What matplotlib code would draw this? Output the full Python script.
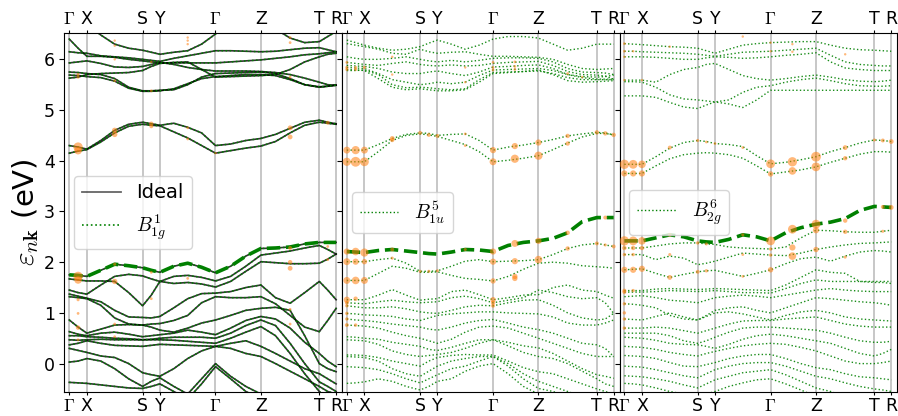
import numpy as np
import matplotlib.pyplot as plt
from matplotlib.lines import Line2D

plt.rcParams['mathtext.fontset'] = 'cm'

# --- k-path ---
hs_labels = [r'$\Gamma$', 'X', 'S', 'Y', r'$\Gamma$', 'Z', 'T', 'R']
hs_pos = [0, 17.6, 73.3, 90.6, 146.2, 191.6, 250.0, 266.8]
kgrid = [0, 8.8, 17.6, 31.5, 45.4, 59.4, 73.3, 82.0, 90.6, 104.5, 118.4, 132.3,
         146.2, 161.3, 176.5, 191.6, 206.2, 220.8, 235.4, 250.0, 258.4, 266.8]

# --- Panel 1: ideal / B1g^1 bands (eV) ---
bands_ideal = [
    # conduction
    [4.30, 4.27, 4.23, 4.40, 4.60, 4.72, 4.76, 4.73, 4.70, 4.74, 4.66, 4.55, 4.30, 4.33, 4.40, 4.44, 4.52, 4.64, 4.76, 4.80, 4.76, 4.73],
    [4.15, 4.19, 4.22, 4.37, 4.55, 4.68, 4.72, 4.70, 4.69, 4.57, 4.45, 4.30, 4.15, 4.20, 4.25, 4.29, 4.38, 4.55, 4.70, 4.76, 4.74, 4.72],
    [6.40, 6.22, 6.06, 6.06, 6.04, 6.00, 5.97, 5.95, 5.93, 5.93, 5.93, 5.93, 5.93, 5.95, 5.97, 5.99, 6.02, 6.05, 6.09, 6.11, 6.13, 6.15],
    [6.15, 6.13, 6.12, 6.07, 6.05, 6.03, 6.00, 5.98, 5.96, 6.02, 6.07, 6.12, 6.17, 6.17, 6.16, 6.15, 6.16, 6.19, 6.22, 6.23, 6.19, 6.15],
    [5.93, 5.95, 5.97, 5.92, 5.85, 5.84, 5.86, 5.90, 5.94, 5.90, 5.84, 5.80, 5.77, 5.77, 5.77, 5.76, 5.74, 5.70, 5.63, 5.55, 5.50, 5.49],
    [5.75, 5.74, 5.72, 5.70, 5.62, 5.45, 5.38, 5.38, 5.39, 5.40, 5.50, 5.65, 5.72, 5.73, 5.74, 5.75, 5.72, 5.62, 5.50, 5.45, 5.47, 5.49],
    [5.69, 5.68, 5.66, 5.64, 5.57, 5.43, 5.37, 5.37, 5.38, 5.42, 5.52, 5.62, 5.66, 5.68, 5.70, 5.70, 5.68, 5.60, 5.50, 5.46, 5.47, 5.49],
    [5.63, 5.65, 5.70, 5.72, 5.73, 5.74, 5.78, 5.86, 5.92, 5.94, 5.95, 5.80, 5.65, 5.66, 5.67, 5.68, 5.70, 5.80, 5.95, 6.05, 6.10, 6.12],
    [6.70, 6.70, 6.70, 6.48, 6.30, 6.22, 6.18, 6.14, 6.10, 6.14, 6.17, 6.30, 6.50, 6.70, 6.70, 6.70, 6.60, 6.42, 6.33, 6.35, 6.45, 6.55],
    # valence
    [1.75, 1.74, 1.72, 1.84, 1.96, 1.93, 1.89, 1.84, 1.80, 1.92, 1.98, 1.90, 1.79, 1.92, 2.12, 2.27, 2.28, 2.30, 2.36, 2.39, 2.39, 2.39],
    [1.67, 1.65, 1.63, 1.63, 1.62, 1.40, 1.14, 1.35, 1.62, 1.72, 1.74, 1.70, 1.63, 1.72, 1.92, 2.14, 2.18, 2.22, 2.28, 2.33, 2.25, 2.16],
    [1.45, 1.40, 1.37, 1.55, 1.72, 1.76, 1.73, 1.67, 1.62, 1.58, 1.60, 1.57, 1.51, 1.62, 1.82, 2.01, 1.99, 1.97, 1.97, 1.98, 2.06, 2.16],
    [1.37, 1.33, 1.29, 1.22, 1.05, 0.92, 0.91, 0.90, 0.93, 1.10, 1.28, 1.38, 1.39, 1.42, 1.50, 1.55, 1.30, 1.19, 1.40, 1.62, 1.45, 1.26],
    [1.32, 1.30, 1.28, 1.15, 0.90, 0.78, 0.76, 0.78, 0.79, 0.85, 0.95, 1.20, 1.32, 1.30, 1.30, 1.32, 1.18, 0.95, 0.72, 0.63, 0.85, 1.09],
    [0.86, 0.72, 0.60, 0.68, 0.76, 0.77, 0.76, 0.72, 0.66, 0.62, 0.70, 0.80, 0.86, 0.95, 1.05, 1.09, 1.11, 1.05, 0.55, 0.00, -0.10, -0.16],
    [0.63, 0.58, 0.55, 0.60, 0.62, 0.58, 0.53, 0.55, 0.57, 0.60, 0.66, 0.62, 0.57, 0.70, 0.85, 0.93, 0.88, 0.70, 0.42, 0.20, 0.05, -0.06],
    [0.55, 0.55, 0.53, 0.52, 0.50, 0.49, 0.47, 0.48, 0.50, 0.52, 0.52, 0.52, 0.50, 0.60, 0.75, 0.86, 0.75, 0.40, 0.00, -0.36, -0.45, -0.55],
    [0.47, 0.46, 0.47, 0.48, 0.47, 0.47, 0.47, 0.47, 0.47, 0.46, 0.44, 0.42, 0.40, 0.50, 0.62, 0.73, 0.55, 0.20, -0.20, -0.55, -0.70, -0.80],
    [0.37, 0.40, 0.45, 0.40, 0.36, 0.35, 0.34, 0.36, 0.38, 0.37, 0.36, 0.35, 0.34, 0.40, 0.45, 0.34, 0.20, 0.05, -0.10, -0.20, -0.30, -0.40],
    [0.30, 0.26, 0.22, 0.15, 0.12, 0.00, -0.18, -0.22, -0.25, -0.10, 0.10, 0.25, 0.34, 0.30, 0.20, 0.14, 0.00, -0.15, -0.30, -0.45, -0.55, -0.60],
    [0.03, 0.05, 0.10, 0.05, -0.10, -0.30, -0.45, -0.35, -0.28, -0.45, -0.60, -0.30, 0.00, -0.25, -0.45, -0.60, -0.70, -0.70, -0.70, -0.70, -0.70, -0.70],
    [-0.37, -0.38, -0.39, -0.42, -0.45, -0.48, -0.49, -0.45, -0.40, -0.55, -0.70, -0.40, -0.06, -0.30, -0.55, -0.70, -0.70, -0.70, -0.70, -0.70, -0.70, -0.70],
]
top_b1g = [1.75, 1.74, 1.72, 1.84, 1.96, 1.93, 1.89, 1.84, 1.80, 1.92, 1.98, 1.90, 1.79, 1.92, 2.12, 2.27, 2.28, 2.30, 2.36, 2.39, 2.39, 2.39]
dots1_k = [8.8, 8.8, 45.4, 45.4, 82.0, 82.0, 118.4, 118.4, 146.2, 220.8, 220.8, 258.4,
           8.8, 8.8, 8.8, 8.8, 8.8, 8.8, 45.4, 45.4, 45.4, 45.4, 82.0, 82.0, 118.4,
           220.8, 220.8, 220.8, 220.8, 220.8, 258.4, 258.4,
           8.8, 8.8, 45.4, 45.4, 45.4, 45.4, 118.4, 118.4, 118.4, 220.8, 220.8, 220.8, 82.0, 82.0]
dots1_e = [4.27, 4.20, 4.60, 4.52, 4.73, 4.68, 4.65, 4.43, 4.15, 4.65, 4.47, 4.75,
           1.72, 1.65, 1.26, 0.99, 0.71, 0.47, 1.96, 1.62, 0.78, 0.53, 1.80, 1.28, 1.68,
           2.28, 2.00, 1.88, 1.07, 0.78, 2.31, 2.05,
           5.70, 5.65, 6.37, 6.27, 6.00, 5.58, 6.43, 6.37, 6.30, 6.43, 6.33, 5.65, 5.38, 5.95]
dots1_w = [45, 30, 15, 15, 10, 8, 4, 4, 3, 12, 12, 8,
           45, 30, 5, 4, 10, 4, 5, 15, 4, 4, 4, 4, 4,
           8, 10, 12, 4, 4, 4, 4,
           5, 5, 3, 3, 3, 4, 3, 3, 3, 4, 4, 4, 4, 3]

# --- Panel 2: B1u^5 bands (eV) ---
bands_b1u = [
    [4.21, 4.21, 4.21, 4.32, 4.44, 4.52, 4.55, 4.54, 4.50, 4.52, 4.53, 4.40, 4.21, 4.27, 4.31, 4.36, 4.42, 4.49, 4.53, 4.56, 4.55, 4.51],
    [3.98, 3.98, 3.98, 4.18, 4.40, 4.50, 4.53, 4.51, 4.48, 4.40, 4.32, 4.18, 3.98, 4.01, 4.05, 4.10, 4.22, 4.35, 4.47, 4.54, 4.54, 4.51],
    [6.38, 6.33, 6.28, 6.22, 6.18, 6.20, 6.25, 6.32, 6.38, 6.30, 6.20, 6.28, 6.40, 6.45, 6.45, 6.42, 6.30, 6.18, 6.22, 6.30, 6.30, 6.30],
    [6.31, 6.28, 6.25, 6.20, 6.12, 6.10, 6.20, 6.15, 6.12, 6.14, 6.15, 6.10, 6.06, 6.06, 6.05, 6.04, 6.00, 5.90, 5.82, 5.80, 5.81, 5.82],
    [6.05, 6.02, 6.00, 6.00, 6.02, 6.05, 6.00, 5.97, 5.95, 5.98, 5.95, 5.98, 6.02, 6.03, 6.03, 6.02, 5.95, 5.82, 5.75, 5.74, 5.73, 5.70],
    [5.94, 5.92, 5.90, 5.88, 5.92, 5.95, 5.90, 5.88, 5.87, 5.89, 5.87, 5.88, 5.92, 5.94, 5.95, 5.96, 5.88, 5.76, 5.70, 5.69, 5.67, 5.61],
    [5.88, 5.87, 5.86, 5.82, 5.75, 5.72, 5.72, 5.75, 5.77, 5.72, 5.68, 5.75, 5.85, 5.86, 5.88, 5.89, 5.82, 5.70, 5.64, 5.61, 5.61, 5.61],
    [5.84, 5.83, 5.82, 5.72, 5.60, 5.55, 5.50, 5.52, 5.55, 5.52, 5.55, 5.68, 5.79, 5.80, 5.81, 5.82, 5.78, 5.70, 5.66, 5.65, 5.66, 5.69],
    [5.78, 5.78, 5.79, 5.70, 5.50, 5.44, 5.45, 5.44, 5.42, 5.40, 5.42, 5.60, 5.74, 5.75, 5.76, 5.77, 5.72, 5.64, 5.60, 5.60, 5.60, 5.60],
    [5.80, 5.79, 5.78, 5.62, 5.45, 5.40, 5.42, 5.40, 5.38, 5.38, 5.40, 5.55, 5.72, 5.74, 5.76, 5.79, 5.70, 5.58, 5.55, 5.56, 5.57, 5.58],
    [2.01, 2.01, 2.01, 2.05, 2.08, 1.98, 1.82, 1.82, 1.83, 1.92, 2.02, 2.05, 2.01, 2.02, 2.03, 2.05, 2.15, 2.27, 2.34, 2.37, 2.34, 2.31],
    [1.64, 1.64, 1.64, 1.78, 1.92, 1.88, 1.80, 1.80, 1.81, 1.74, 1.68, 1.66, 1.63, 1.72, 1.86, 1.98, 2.00, 1.98, 1.93, 1.91, 1.90, 1.88],
    [1.26, 1.26, 1.26, 1.35, 1.46, 1.35, 1.25, 1.27, 1.28, 1.42, 1.45, 1.36, 1.26, 1.30, 1.35, 1.36, 1.50, 1.55, 1.45, 1.42, 1.35, 1.29],
    [1.20, 1.19, 1.18, 1.22, 1.25, 1.22, 1.20, 1.21, 1.22, 1.30, 1.33, 1.28, 1.20, 1.25, 1.30, 1.45, 1.40, 1.32, 1.28, 1.30, 1.20, 0.99],
    [1.14, 1.12, 1.10, 1.10, 1.12, 1.08, 1.02, 1.00, 0.99, 1.05, 1.12, 1.15, 1.14, 1.20, 1.25, 1.26, 1.15, 1.00, 0.90, 0.86, 0.88, 0.99],
    [0.99, 0.98, 0.96, 0.95, 0.93, 0.88, 0.85, 0.90, 0.95, 0.98, 1.00, 1.02, 1.02, 1.00, 0.99, 0.98, 0.92, 0.80, 0.76, 0.76, 0.80, 0.86],
    [0.88, 0.86, 0.85, 0.82, 0.78, 0.75, 0.72, 0.68, 0.66, 0.72, 0.80, 0.85, 0.87, 0.80, 0.72, 0.67, 0.60, 0.50, 0.40, 0.37, 0.30, 0.14],
    [0.76, 0.75, 0.74, 0.70, 0.62, 0.55, 0.50, 0.45, 0.40, 0.48, 0.62, 0.72, 0.74, 0.70, 0.60, 0.50, 0.40, 0.30, 0.20, 0.14, 0.14, 0.14],
    [0.53, 0.52, 0.50, 0.48, 0.42, 0.38, 0.34, 0.28, 0.26, 0.32, 0.40, 0.47, 0.47, 0.42, 0.35, 0.31, 0.20, 0.05, -0.10, -0.22, -0.25, -0.29],
    [0.47, 0.46, 0.45, 0.38, 0.25, 0.18, 0.14, 0.16, 0.18, 0.22, 0.30, 0.40, 0.47, 0.35, 0.22, 0.14, 0.10, 0.00, -0.15, -0.30, -0.40, -0.45],
    [0.17, 0.17, 0.16, 0.12, 0.05, 0.00, -0.05, 0.05, 0.12, 0.16, 0.18, 0.17, 0.17, 0.05, -0.08, -0.16, -0.20, -0.30, -0.40, -0.50, -0.55, -0.60],
    [0.14, 0.13, 0.12, 0.05, -0.10, -0.20, -0.25, -0.15, -0.05, 0.05, 0.10, 0.14, 0.14, 0.00, -0.20, -0.35, -0.45, -0.55, -0.65, -0.70, -0.70, -0.70],
    [-0.06, -0.07, -0.08, -0.12, -0.20, -0.30, -0.38, -0.30, -0.22, -0.10, -0.05, 0.05, 0.14, -0.05, -0.30, -0.49, -0.55, -0.65, -0.70, -0.70, -0.70, -0.70],
    [-0.39, -0.38, -0.36, -0.30, -0.35, -0.45, -0.52, -0.45, -0.35, -0.30, -0.15, -0.05, 0.00, -0.20, -0.45, -0.60, -0.70, -0.70, -0.70, -0.70, -0.70, -0.70],
]
top_b1u = [2.21, 2.20, 2.19, 2.23, 2.25, 2.22, 2.19, 2.17, 2.16, 2.20, 2.25, 2.24, 2.21, 2.33, 2.39, 2.42, 2.47, 2.58, 2.80, 2.88, 2.88, 2.88]
dots2_k = [0, 8.8, 17.6, 0, 8.8, 17.6, 45.4, 45.4, 73.3, 82.0, 90.6, 118.4, 118.4, 146.2, 146.2,
           168.0, 168.0, 191.6, 191.6, 220.8, 220.8, 250.0, 258.4, 266.8,
           0, 0, 0, 8.8, 8.8, 17.6, 146.2, 146.2, 146.2, 168.0, 168.0, 168.0, 118.4, 118.4, 220.8, 235.4, 45.4, 45.4,
           0, 8.8, 17.6, 0, 8.8, 17.6, 0, 8.8, 17.6, 0, 8.8, 0, 0, 0, 0, 0, 8.8,
           45.4, 45.4, 73.3, 82.0, 90.6, 118.4, 146.2, 146.2, 146.2, 146.2, 146.2, 146.2,
           168.0, 168.0, 168.0, 168.0, 191.6, 191.6, 220.8, 220.8, 250.0, 258.4, 258.4, 266.8]
dots2_e = [4.21, 4.21, 4.21, 3.98, 3.98, 3.98, 4.44, 4.41, 4.55, 4.51, 4.49, 4.53, 4.30, 4.21, 3.98,
           4.29, 4.04, 4.36, 4.10, 4.49, 4.34, 4.56, 4.54, 4.51,
           5.84, 5.80, 5.94, 5.84, 5.80, 5.84, 5.94, 5.84, 5.79, 5.95, 5.86, 5.80, 5.55, 5.84, 5.72, 5.65, 6.05, 5.70,
           2.21, 2.21, 2.19, 2.01, 2.01, 2.01, 1.64, 1.64, 1.64, 1.26, 1.28, 1.20, 1.14, 0.99, 0.88, 0.76, 0.76,
           2.25, 2.08, 1.82, 1.82, 1.83, 2.25, 2.21, 2.01, 1.63, 1.26, 1.20, 1.14,
           2.37, 2.02, 1.72, 1.68, 2.42, 2.05, 2.58, 2.27, 2.37, 2.88, 2.34, 2.31]
dots2_w = [25, 35, 25, 35, 50, 40, 12, 10, 8, 8, 8, 4, 4, 20, 25,
           20, 35, 20, 35, 10, 10, 10, 10, 10,
           5, 5, 4, 5, 5, 5, 4, 4, 4, 4, 4, 4, 3, 3, 4, 3, 3, 3,
           20, 30, 35, 25, 20, 15, 25, 30, 25, 20, 10, 8, 6, 6, 6, 8, 6,
           8, 5, 5, 5, 5, 5, 20, 20, 15, 15, 10, 8,
           25, 20, 15, 15, 20, 30, 10, 10, 8, 8, 5, 8]

# --- Panel 3: B2g^6 bands (eV) ---
bands_b2g = [
    [3.93, 3.93, 3.93, 4.08, 4.25, 4.36, 4.40, 4.38, 4.34, 4.32, 4.28, 4.10, 3.94, 3.97, 4.02, 4.08, 4.18, 4.26, 4.35, 4.41, 4.40, 4.38],
    [3.75, 3.75, 3.75, 3.90, 4.04, 4.12, 4.15, 4.16, 4.15, 4.12, 4.05, 3.90, 3.74, 3.78, 3.82, 3.88, 3.97, 4.05, 4.13, 4.18, 4.18, 4.17],
    [6.31, 6.30, 6.29, 6.27, 6.25, 6.24, 6.22, 6.17, 6.12, 6.20, 6.28, 6.31, 6.33, 6.34, 6.35, 6.35, 6.28, 6.22, 6.19, 6.18, 6.17, 6.16],
    [6.16, 6.16, 6.15, 6.14, 6.13, 6.12, 6.10, 6.08, 6.06, 6.10, 6.14, 6.15, 6.16, 6.18, 6.20, 6.22, 6.08, 5.95, 5.90, 5.88, 5.87, 5.87],
    [6.05, 6.05, 6.05, 6.04, 6.02, 6.00, 6.00, 6.03, 6.05, 6.04, 6.02, 6.03, 6.05, 6.08, 6.10, 6.13, 5.95, 5.83, 5.80, 5.78, 5.78, 5.78],
    [5.59, 5.59, 5.59, 5.55, 5.70, 5.80, 5.84, 5.90, 5.92, 5.80, 5.68, 5.62, 5.59, 5.62, 5.66, 5.69, 5.65, 5.60, 5.57, 5.56, 5.57, 5.59],
    [5.56, 5.56, 5.55, 5.45, 5.30, 5.22, 5.20, 5.18, 5.16, 5.20, 5.35, 5.45, 5.48, 5.55, 5.60, 5.63, 5.58, 5.52, 5.48, 5.47, 5.47, 5.48],
    [5.28, 5.28, 5.28, 5.25, 5.15, 5.06, 5.03, 5.10, 5.16, 5.12, 5.05, 5.20, 5.39, 5.39, 5.39, 5.39, 5.39, 5.39, 5.39, 5.39, 5.39, 5.39],
    [2.28, 2.28, 2.28, 2.32, 2.36, 2.38, 2.38, 2.36, 2.35, 2.30, 2.28, 2.27, 2.26, 2.30, 2.48, 2.63, 2.62, 2.60, 2.59, 2.59, 2.61, 2.63],
    [2.15, 2.15, 2.15, 2.05, 2.12, 2.08, 1.95, 1.98, 2.02, 2.10, 2.18, 2.16, 2.14, 2.13, 2.18, 2.25, 2.30, 2.34, 2.37, 2.38, 2.39, 2.40],
    [1.85, 1.86, 1.87, 1.78, 1.70, 1.76, 1.81, 1.83, 1.84, 1.78, 1.72, 1.78, 1.85, 1.97, 2.07, 2.10, 2.02, 2.12, 2.20, 2.23, 2.22, 2.20],
    [1.44, 1.44, 1.44, 1.47, 1.48, 1.47, 1.46, 1.47, 1.48, 1.47, 1.46, 1.45, 1.44, 1.55, 1.70, 1.85, 1.80, 1.78, 1.62, 1.60, 1.60, 1.58],
    [1.41, 1.41, 1.41, 1.42, 1.44, 1.43, 1.42, 1.43, 1.44, 1.42, 1.40, 1.40, 1.39, 1.48, 1.58, 1.65, 1.62, 1.62, 1.62, 1.62, 1.62, 1.62],
    [1.32, 1.33, 1.34, 1.30, 1.25, 1.23, 1.20, 1.25, 1.30, 1.33, 1.35, 1.33, 1.30, 1.35, 1.40, 1.45, 1.48, 1.45, 1.43, 1.42, 1.42, 1.42],
    [1.18, 1.17, 1.15, 1.10, 0.95, 0.88, 0.86, 0.95, 1.05, 1.10, 1.12, 1.05, 1.00, 1.10, 1.20, 1.30, 1.28, 1.25, 1.22, 1.20, 1.18, 1.15],
    [0.88, 0.87, 0.86, 0.93, 1.00, 0.92, 0.86, 0.93, 1.00, 1.02, 0.98, 0.92, 0.86, 0.95, 1.02, 1.05, 1.00, 0.92, 0.88, 0.86, 0.85, 0.84],
    [0.70, 0.70, 0.70, 0.72, 0.70, 0.65, 0.60, 0.65, 0.70, 0.78, 0.84, 0.85, 0.85, 0.88, 0.90, 0.92, 0.85, 0.78, 0.74, 0.72, 0.72, 0.72],
    [0.60, 0.60, 0.60, 0.60, 0.55, 0.45, 0.40, 0.45, 0.52, 0.62, 0.70, 0.72, 0.72, 0.70, 0.68, 0.66, 0.60, 0.52, 0.45, 0.42, 0.42, 0.44],
    [0.52, 0.51, 0.50, 0.46, 0.40, 0.38, 0.37, 0.34, 0.30, 0.38, 0.48, 0.55, 0.58, 0.55, 0.50, 0.45, 0.40, 0.30, 0.20, 0.15, 0.20, 0.28],
    [0.34, 0.33, 0.32, 0.28, 0.22, 0.18, 0.15, 0.20, 0.24, 0.30, 0.35, 0.38, 0.40, 0.38, 0.32, 0.25, 0.15, 0.05, 0.00, 0.00, 0.02, 0.05],
    [0.16, 0.15, 0.14, 0.10, 0.02, -0.05, -0.06, -0.02, 0.02, 0.10, 0.15, 0.18, 0.18, 0.10, 0.00, -0.08, -0.12, -0.20, -0.26, -0.28, -0.30, -0.32],
    [-0.05, -0.06, -0.07, -0.12, -0.18, -0.24, -0.28, -0.20, -0.12, -0.05, 0.00, 0.02, 0.02, -0.05, -0.15, -0.25, -0.30, -0.38, -0.45, -0.50, -0.52, -0.55],
    [-0.24, -0.25, -0.26, -0.30, -0.35, -0.42, -0.48, -0.40, -0.32, -0.25, -0.18, -0.15, -0.12, -0.22, -0.35, -0.48, -0.55, -0.65, -0.70, -0.70, -0.70, -0.70],
    [-0.39, -0.40, -0.42, -0.48, -0.55, -0.60, -0.65, -0.60, -0.55, -0.45, -0.38, -0.32, -0.30, -0.40, -0.52, -0.65, -0.70, -0.70, -0.70, -0.70, -0.70, -0.70],
]
top_b2g = [2.42, 2.42, 2.42, 2.48, 2.54, 2.50, 2.42, 2.40, 2.39, 2.45, 2.54, 2.50, 2.42, 2.58, 2.68, 2.75, 2.79, 2.86, 3.02, 3.10, 3.09, 3.08]
dots3_k = [0, 8.8, 17.6, 0, 8.8, 17.6, 45.4, 73.3, 82.0, 90.6, 118.4, 146.2, 146.2, 168.0, 168.0,
           191.6, 191.6, 220.8, 220.8, 250.0, 258.4, 266.8,
           0, 0, 0, 8.8, 45.4, 146.2, 146.2, 118.4, 168.0, 168.0, 220.8, 0, 17.6,
           0, 8.8, 17.6, 0, 8.8, 17.6, 0, 8.8, 0, 8.8, 17.6, 45.4, 45.4, 45.4, 73.3, 82.0, 73.3, 82.0,
           118.4, 118.4, 118.4, 146.2, 146.2, 146.2, 146.2, 168.0, 168.0, 168.0, 191.6, 191.6, 191.6,
           220.8, 220.8, 220.8, 258.4, 266.8, 258.4, 0, 8.8, 0, 0, 0, 0, 0]
dots3_e = [3.93, 3.93, 3.93, 3.75, 3.75, 3.75, 4.26, 4.40, 4.37, 4.34, 4.26, 3.94, 3.74, 3.98, 3.80,
           4.08, 3.88, 4.26, 4.05, 4.41, 4.40, 4.38,
           6.31, 6.16, 6.05, 6.16, 6.25, 6.33, 6.16, 6.45, 6.30, 6.15, 6.10, 5.59, 5.59,
           2.42, 2.42, 2.42, 2.28, 2.28, 2.28, 2.15, 2.15, 1.85, 1.85, 1.87, 2.54, 2.15, 1.70, 2.38, 2.36, 1.81, 1.83,
           2.54, 2.15, 1.72, 2.42, 2.26, 2.14, 1.85, 2.65, 2.29, 2.12, 2.75, 2.63, 2.25,
           2.82, 2.60, 2.10, 3.09, 3.08, 2.61, 1.44, 1.44, 1.41, 1.18, 1.00, 0.88, 0.70]
dots3_w = [45, 40, 30, 20, 20, 20, 8, 5, 4, 4, 4, 40, 15, 45, 30,
           50, 40, 12, 10, 5, 8, 12,
           4, 4, 3, 3, 3, 3, 3, 3, 3, 3, 3, 3, 3,
           45, 40, 30, 10, 10, 10, 6, 6, 20, 20, 20, 8, 5, 12, 6, 5, 8, 6,
           5, 4, 4, 40, 6, 6, 15, 40, 20, 30, 40, 20, 15,
           10, 10, 5, 8, 12, 5, 8, 6, 8, 6, 6, 6, 6]

e_min, e_max = -0.56, 6.52
k_lo, k_hi = -4.8, 272.7

fig, axes = plt.subplots(1, 3, figsize=(8.98, 4.16), dpi=100, sharey=True)
fig.subplots_adjust(left=0.0718, right=0.999, top=0.9207, bottom=0.0577, wspace=0)

panels = [
    (bands_b1u, top_b1u, dots2_k, dots2_e, dots2_w, r'$B^5_{1u}$'),
    (bands_b2g, top_b2g, dots3_k, dots3_e, dots3_w, r'$B^6_{2g}$'),
]

for ax in axes:
    for x in hs_pos:
        ax.axvline(x, color='0.72', lw=1.1, zorder=0)
    ax.set_xlim(k_lo, k_hi)
    ax.set_ylim(e_min, e_max)
    ax.set_xticks(hs_pos, hs_labels)
    ax.tick_params(axis='x', top=True, labeltop=True, labelsize=12.5, length=2, pad=1.5)
    ax.tick_params(axis='y', labelsize=12.5)

# panel 1: ideal + B1g
ax = axes[0]
for band in bands_ideal:
    ax.plot(kgrid, band, color='k', alpha=0.8, lw=1.2)
    ax.plot(kgrid, band, color='green', ls=':', lw=1.1)
ax.plot(kgrid, top_b1g, color='green', ls='--', lw=2.6)
ax.scatter(dots1_k, dots1_e, s=dots1_w, color='tab:orange', alpha=0.55, lw=0, zorder=3)
handles = [Line2D([], [], color='k', alpha=0.6, lw=1.3),
           Line2D([], [], color='green', ls=':', lw=1.2)]
ax.legend(handles, ['Ideal', r'$B^1_{1g}$'], loc='center left', fontsize=14)
ax.set_ylabel(r'$\varepsilon_{n\mathbf{k}}$ (eV)', fontsize=21, labelpad=2)

for ax, (bands, top, dk, de, dw, lab) in zip(axes[1:], panels):
    for band in bands:
        ax.plot(kgrid, band, color='green', ls=':', lw=1.0, alpha=0.9)
    ax.plot(kgrid, top, color='green', ls='--', lw=2.6)
    ax.scatter(dk, de, s=dw, color='tab:orange', alpha=0.55, lw=0, zorder=3)
    h = [Line2D([], [], color='green', ls=':', lw=1.0)]
    ax.legend(h, [lab], loc='center left', fontsize=14)

fig.savefig('out.png', dpi=100)
